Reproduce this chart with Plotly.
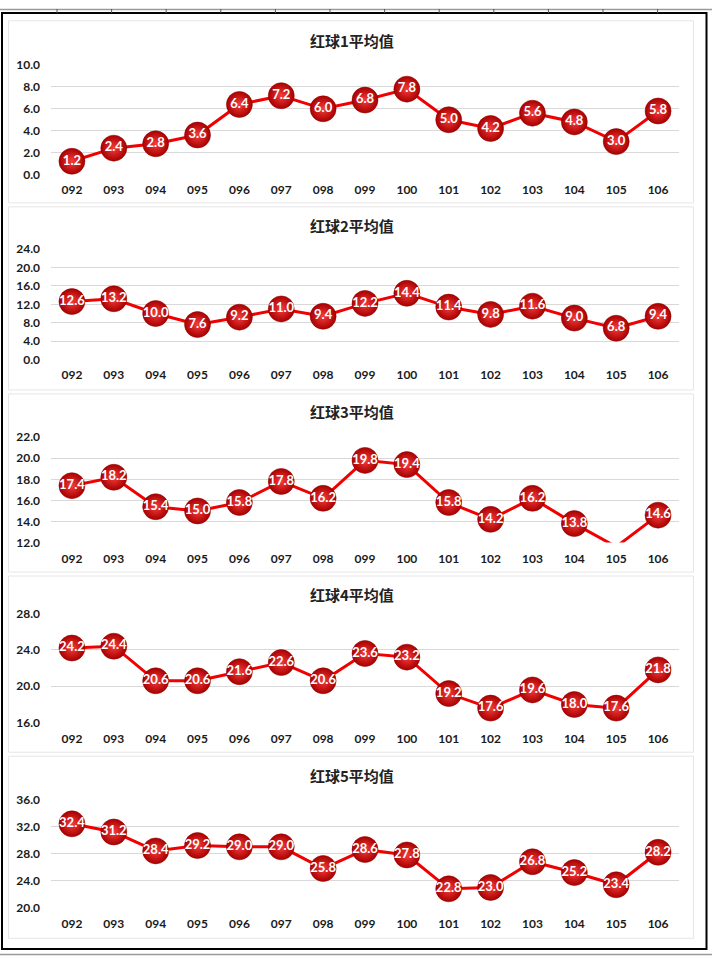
import plotly.graph_objects as go

W, H = 712, 963

categories = ["092", "093", "094", "095", "096", "097", "098", "099", "100",
              "101", "102", "103", "104", "105", "106"]

titles = ["红球1平均值", "红球2平均值", "红球3平均值", "红球4平均值", "红球5平均值"]

red1 = [1.2, 2.4, 2.8, 3.6, 6.4, 7.2, 6.0, 6.8, 7.8, 5.0, 4.2, 5.6, 4.8, 3.0, 5.8]
red2 = [12.6, 13.2, 10.0, 7.6, 9.2, 11.0, 9.4, 12.2, 14.4, 11.4, 9.8, 11.6, 9.0, 6.8, 9.4]
red3 = [17.4, 18.2, 15.4, 15.0, 15.8, 17.8, 16.2, 19.8, 19.4, 15.8, 14.2, 16.2, 13.8, 11.6, 14.6]
red4 = [24.2, 24.4, 20.6, 20.6, 21.6, 22.6, 20.6, 23.6, 23.2, 19.2, 17.6, 19.6, 18.0, 17.6, 21.8]
red5 = [32.4, 31.2, 28.4, 29.2, 29.0, 29.0, 25.8, 28.6, 27.8, 22.8, 23.0, 26.8, 25.2, 23.4, 28.2]

series = [red1, red2, red3, red4, red5]

y_ranges = [(0, 10), (0, 24), (12, 22), (16, 28), (20, 36)]
y_dticks = [2, 4, 2, 4, 4]

# pixel layout (top, bottom of plot area; panel top/bottom; title centre)
plot_px = [(58, 169), (245, 357), (436, 543), (615, 726), (804, 914)]
panel_px = [(13, 198), (202, 388), (392, 573), (577, 756), (760, 945)]
title_py = [33, 221, 410, 596, 780]
x_px = (51, 679)


def py(v):
    return 1 - v / H


def px(v):
    return v / W


fig = go.Figure()
shapes = []
annotations = []

tick_font = dict(family="Lato, 'DejaVu Sans', sans-serif", size=12, color="#1a1a1a", weight="bold")

for i in range(5):
    ax = "" if i == 0 else str(i + 1)
    fig.add_trace(go.Scatter(
        x=categories, y=series[i],
        xaxis="x" + ax, yaxis="y" + ax,
        mode="lines+markers+text",
        text=[f"{v:.1f}" for v in series[i]],
        textposition="middle center",
        textfont=dict(family="Lato, 'DejaVu Sans', sans-serif", size=13, color="white", weight="bold"),
        line=dict(color="#F00000", width=3),
        marker=dict(size=26, color="#A80000",
                    gradient=dict(type="radial", color="#F53C3C"),
                    line=dict(width=0.5, color="#8A0000")),
        cliponaxis=False,
        hoverinfo="skip",
        showlegend=False,
    ))
    t, b = plot_px[i]
    fig.update_layout(**{
        "xaxis" + ax: dict(
            domain=[px(x_px[0]), px(x_px[1])],
            anchor="y" + ax,
            type="category",
            range=[-0.5, 14.5],
            showgrid=False, zeroline=False, showline=False,
            ticks="", tickfont=tick_font,
            ticklabelstandoff=7,
            fixedrange=True,
        ),
        "yaxis" + ax: dict(
            domain=[py(b), py(t)],
            anchor="x" + ax,
            range=list(y_ranges[i]),
            dtick=y_dticks[i],
            tick0=y_ranges[i][0],
            tickformat=".1f",
            showgrid=True, gridcolor="#D9D9D9", gridwidth=1,
            zeroline=False, showline=False,
            ticks="", tickfont=tick_font,
            ticklabelstandoff=10,
            fixedrange=True,
        ),
    })
    pt, pb = panel_px[i]
    shapes.append(dict(type="rect", xref="paper", yref="paper",
                       x0=px(8.5), x1=px(693.5), y0=py(pb), y1=py(pt),
                       line=dict(color="#E6E6E6", width=1), fillcolor="white",
                       layer="below"))
    annotations.append(dict(
        text=titles[i], xref="paper", yref="paper",
        x=px(352), y=py(title_py[i]), xanchor="center", yanchor="middle",
        showarrow=False,
        font=dict(family="'Noto Sans CJK SC', sans-serif", size=15, color="#222222", weight="bold"),
    ))

# outer frame (sheet border)
shapes.append(dict(type="rect", xref="paper", yref="paper",
                   x0=px(2), x1=px(706.5), y0=py(956), y1=py(5),
                   line=dict(color="black", width=2), layer="above"))
shapes.append(dict(type="line", xref="paper", yref="paper",
                   x0=0, x1=1, y0=py(1.5), y1=py(1.5),
                   line=dict(color="#9A9A9A", width=1.5)))
shapes.append(dict(type="line", xref="paper", yref="paper",
                   x0=0, x1=1, y0=py(961.5), y1=py(961.5),
                   line=dict(color="#9A9A9A", width=1.5)))
for k in range(12):
    xk = 57 + k * 54.6
    shapes.append(dict(type="line", xref="paper", yref="paper",
                       x0=px(xk), x1=px(xk), y0=py(1), y1=py(5),
                       line=dict(color="#555555", width=1)))

fig.update_layout(
    width=W, height=H,
    margin=dict(l=0, r=0, t=0, b=0),
    paper_bgcolor="white", plot_bgcolor="rgba(0,0,0,0)",
    shapes=shapes, annotations=annotations,
)

fig.write_html(
    "out.html",
    config={"displayModeBar": False},
    post_script=(
        "document.body.style.margin='0';document.body.style.padding='0';"
        "document.body.style.overflow='hidden';"
    ),
)
